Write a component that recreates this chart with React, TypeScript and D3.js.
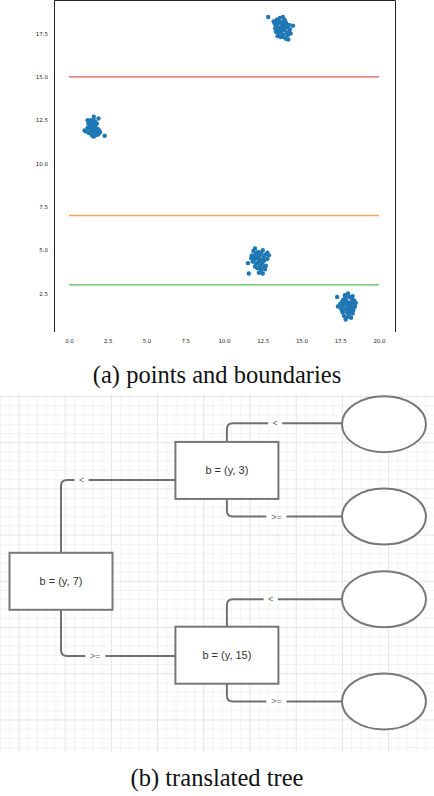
import { useEffect, useRef } from "react";
import * as d3 from "d3";

// scatter panel
const xTicks = [0, 2.5, 5, 7.5, 10, 12.5, 15, 17.5, 20];
const yTicks = [2.5, 5, 7.5, 10, 12.5, 15, 17.5];

const clusterA: [number, number][] = [
  [1.5, 12.4], [1.4, 12.3], [1.7, 12.2], [1.3, 12.1], [1.6, 12.0], [1.8, 11.9], [1.5, 11.8], [1.2, 12.5],
  [1.9, 12.6], [1.6, 12.5], [1.4, 11.9], [1.7, 11.7], [1.3, 12.4], [1.1, 11.85], [1.0, 11.9], [2.0, 11.8],
  [2.3, 11.6], [1.5, 11.6], [1.8, 12.3], [1.6, 12.7], [1.4, 12.5], [1.7, 12.1], [1.9, 11.7], [1.55, 12.2],
  [1.35, 12.0], [1.65, 11.8], [1.75, 11.95], [1.45, 12.15], [1.25, 12.3], [1.85, 12.0], [1.6, 11.55], [1.95, 11.9],
  [1.5, 12.05], [1.3, 11.75], [1.7, 12.4], [1.45, 11.7], [1.2, 12.05], [1.8, 11.65], [1.55, 12.35], [1.62, 11.9],
];
const clusterB: [number, number][] = [
  [12.85, 18.45], [13.2, 18.2], [13.4, 18.3], [13.6, 18.4], [13.8, 18.45], [13.9, 18.3], [13.3, 18.05], [13.5, 18.1],
  [13.7, 18.15], [14.0, 18.1], [14.2, 18.0], [14.45, 17.95], [13.4, 17.9], [13.6, 17.85], [13.8, 17.9], [14.1, 17.85],
  [13.5, 17.7], [13.7, 17.65], [13.9, 17.7], [14.2, 17.6], [13.35, 17.6], [13.55, 17.5], [13.8, 17.45], [14.1, 17.4],
  [14.3, 17.5], [13.45, 17.35], [14.0, 17.2], [13.65, 17.3], [14.15, 17.15], [13.3, 17.8], [13.75, 18.05], [13.95, 17.95],
  [14.25, 17.75], [13.5, 18.25], [13.6, 17.6], [13.85, 17.3], [13.25, 18.1], [14.05, 17.55], [13.95, 18.2], [13.7, 17.8],
];
const clusterC: [number, number][] = [
  [11.55, 4.25], [11.6, 3.65], [11.9, 4.95], [12.0, 5.1], [12.2, 4.9], [12.5, 5.0], [12.7, 4.75], [12.9, 4.7],
  [11.8, 4.7], [12.05, 4.8], [12.3, 4.7], [12.55, 4.6], [12.1, 4.55], [11.95, 4.45], [12.35, 4.45], [12.6, 4.4],
  [12.2, 4.3], [12.45, 4.25], [12.8, 4.5], [11.85, 4.35], [12.05, 4.2], [12.3, 4.1], [12.55, 4.05], [12.15, 3.95],
  [12.4, 3.85], [12.65, 3.9], [12.25, 3.7], [12.5, 3.65], [12.0, 4.05], [12.7, 4.1], [11.75, 4.55], [12.4, 4.85],
  [12.1, 4.65], [12.25, 4.5], [12.6, 4.7], [12.35, 3.95], [12.0, 4.6], [12.5, 4.35], [12.8, 4.85], [12.15, 4.8],
];
const clusterD: [number, number][] = [
  [17.3, 2.3], [17.35, 1.75], [17.6, 2.0], [17.8, 2.4], [18.0, 2.5], [18.1, 2.3], [18.3, 2.35], [18.4, 2.1],
  [18.5, 1.95], [18.45, 1.75], [17.7, 1.8], [17.9, 2.1], [18.05, 1.95], [18.2, 2.0], [17.55, 1.65], [17.8, 1.6],
  [18.0, 1.75], [18.25, 1.7], [18.35, 1.55], [17.65, 1.4], [17.9, 1.45], [18.1, 1.5], [18.3, 1.35], [17.75, 1.2],
  [18.0, 1.15], [18.2, 1.1], [17.85, 1.0], [18.05, 1.3], [17.95, 1.85], [17.7, 2.15], [18.15, 1.85], [17.5, 1.9],
  [18.25, 2.2], [17.85, 2.3], [18.4, 1.9], [17.6, 1.55], [18.1, 1.65], [17.95, 1.6], [18.2, 1.45], [17.8, 1.95],
];

const boundaryValues = [15, 7, 3];
const boundaryColors = ["#e05c5c", "#f2a769", "#5dbd5d"];

// tree panel (positions in grid units)
const treeNodes = [
  { id: "root", label: "b = (y, 7)", kind: "box", col: 0.909, row: 4.0 },
  { id: "b3", label: "b = (y, 3)", kind: "box", col: 4.5, row: 1.6 },
  { id: "b15", label: "b = (y, 15)", kind: "box", col: 4.5, row: 5.6 },
  { id: "l1", label: "", kind: "leaf", col: 7.9, row: 0.6 },
  { id: "l2", label: "", kind: "leaf", col: 7.9, row: 2.6 },
  { id: "l3", label: "", kind: "leaf", col: 7.9, row: 4.39 },
  { id: "l4", label: "", kind: "leaf", col: 7.9, row: 6.6 },
];
const treeEdges = [
  { from: "root", to: "b3", label: "<", row: 1.807, t: 0.18 },
  { from: "root", to: "b15", label: ">=", row: 5.617, t: 0.3 },
  { from: "b3", to: "l1", label: "<", row: 0.58, t: 0.42 },
  { from: "b3", to: "l2", label: ">=", row: 2.6, t: 0.43 },
  { from: "b15", to: "l3", label: "<", row: 4.39, t: 0.38 },
  { from: "b15", to: "l4", label: ">=", row: 6.6, t: 0.43 },
];

const W = 434;
const H = 796;

export default function App() {
  const axRef = useRef<SVGGElement>(null);

  const x = d3.scaleLinear().domain([0, 20]).range([69, 379]);
  const y = d3.scaleLinear().domain([2.5, 17.5]).range([293.5, 33.5]);

  const gx = d3.scaleLinear().domain([0, 1]).range([19, 65.2]);
  const gy = d3.scaleLinear().domain([0, 1]).range([396.5, 442.7]);

  useEffect(() => {
    const g = d3.select(axRef.current);
    g.selectAll("*").remove();
    const fmt = d3.format(".1f");
    const xa = g
      .append("g")
      .attr("transform", "translate(0,336)")
      .call(d3.axisBottom(x).tickValues(xTicks).tickFormat((d) => fmt(d as number)).tickSize(0).tickPadding(3));
    const ya = g
      .append("g")
      .attr("transform", "translate(51,0)")
      .call(d3.axisLeft(y).tickValues(yTicks).tickFormat((d) => fmt(d as number)).tickSize(0).tickPadding(3));
    [xa, ya].forEach((a) => {
      a.select(".domain").remove();
      a.selectAll("text")
        .attr("font-family", "DejaVu Sans")
        .attr("font-size", 5.5)
        .attr("fill", "#222");
    });
  }, []);

  const clusters = [clusterA, clusterB, clusterC, clusterD];

  const byId = new Map(treeNodes.map((n) => [n.id, n]));
  const boxW = 103;
  const boxH = 57;
  const rx = 42;
  const ry = 28;

  // grid lines
  const gridTop = 394;
  const gridBottom = 752;
  const minorX = d3.range(-2, 46).map((i) => gx(i / 5)).filter((v) => v >= 0 && v <= W);
  const minorY = d3.range(-1, 40).map((i) => gy(i / 5)).filter((v) => v >= gridTop && v <= gridBottom);

  const r = 6;

  return (
    <svg
      width={W}
      height={H}
      style={{ position: "absolute", left: 0, top: 0, background: "#fff" }}
    >
      {/* panel a */}
      <g>
        {boundaryValues.map((v, i) => (
          <line key={v} x1={x(0)} x2={x(20)} y1={y(v)} y2={y(v)} stroke={boundaryColors[i]} strokeWidth={1.3} />
        ))}
        {clusters.map((c, ci) => (
          <g key={ci}>
            {c.map((p, i) => (
              <circle key={i} cx={x(p[0])} cy={y(p[1])} r={2.2} fill="#1f77b4" />
            ))}
          </g>
        ))}
        <path d="M54.5,332 V0.5 H395.5 V332" fill="none" stroke="#222" strokeWidth={1} />
        <g ref={axRef} />
        <text x={217} y={383} textAnchor="middle" fontFamily="Liberation Serif" fontSize={24.5} fill="#111">
          (a) points and boundaries
        </text>
      </g>

      {/* panel b */}
      <g>
        {minorX.map((v, i) => {
          const major = Math.abs(((v - 19) / 46.2) - Math.round((v - 19) / 46.2)) < 0.01;
          return (
            <line key={"vx" + i} x1={v} x2={v} y1={gridTop} y2={gridBottom} stroke={major ? "#e4e4e4" : "#f3f3f3"} strokeWidth={1} />
          );
        })}
        {minorY.map((v, i) => {
          const major = Math.abs(((v - 396.5) / 46.2) - Math.round((v - 396.5) / 46.2)) < 0.01;
          return (
            <line key={"hy" + i} x1={0} x2={W} y1={v} y2={v} stroke={major ? "#e4e4e4" : "#f3f3f3"} strokeWidth={1} />
          );
        })}

        {treeEdges.map((e, i) => {
          const s = byId.get(e.from)!;
          const t = byId.get(e.to)!;
          const sx = gx(s.col);
          const sy = gy(s.row);
          const ty = gy(e.row);
          const up = ty < sy;
          const startY = up ? sy - boxH / 2 : sy + boxH / 2;
          const endX = t.kind === "box" ? gx(t.col) - boxW / 2 : gx(t.col) - rx;
          const p = d3.path();
          p.moveTo(sx, startY);
          p.lineTo(sx, up ? ty + r : ty - r);
          p.quadraticCurveTo(sx, ty, sx + r, ty);
          p.lineTo(endX, ty);
          const lx = sx + (endX - sx) * e.t;
          const lw = e.label.length > 1 ? 20 : 14;
          return (
            <g key={i}>
              <path d={p.toString()} fill="none" stroke="#717171" strokeWidth={2} />
              <rect x={lx - lw / 2} y={ty - 4} width={lw} height={8} fill="#fff" />
              <text x={lx} y={ty + 3} textAnchor="middle" fontFamily="Liberation Sans" fontSize={9} fill="#666">
                {e.label}
              </text>
            </g>
          );
        })}

        {treeNodes.map((n) =>
          n.kind === "box" ? (
            <g key={n.id}>
              <rect
                x={gx(n.col) - boxW / 2}
                y={gy(n.row) - boxH / 2}
                width={boxW}
                height={boxH}
                fill="#fff"
                stroke="#777"
                strokeWidth={2}
              />
              <text x={gx(n.col)} y={gy(n.row) + 4} textAnchor="middle" fontFamily="Liberation Sans" fontSize={11} fill="#333">
                {n.label}
              </text>
            </g>
          ) : (
            <ellipse key={n.id} cx={gx(n.col)} cy={gy(n.row)} rx={rx} ry={ry} fill="#fff" stroke="#777" strokeWidth={2} />
          )
        )}

        <text x={217} y={786} textAnchor="middle" fontFamily="Liberation Serif" fontSize={24.5} fill="#111">
          (b) translated tree
        </text>
      </g>
    </svg>
  );
}
